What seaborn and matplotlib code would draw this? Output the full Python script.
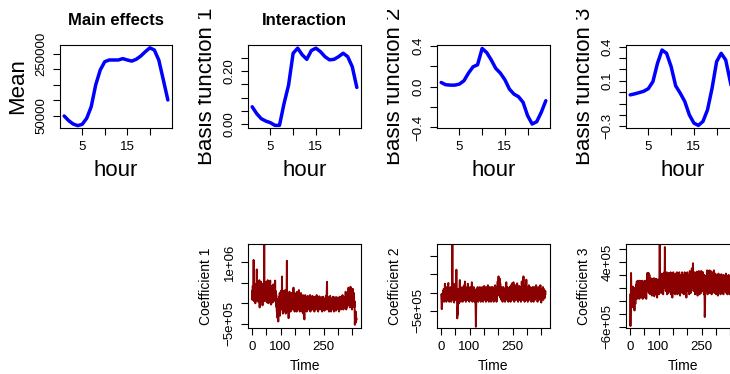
import numpy as np
import pandas as pd
import matplotlib
matplotlib.use("Agg")
import matplotlib.pyplot as plt
import seaborn as sns
from matplotlib.transforms import Bbox, TransformedBbox

# ---------------- data ----------------
hours = list(range(1, 25))
mean_effect = [49100, 34000, 23000, 17800, 22000, 41600, 79000, 150000, 198000, 225000,
               230600, 230600, 230600, 235000, 230600, 227000, 233000, 243500, 257500, 270000,
               263000, 230000, 166000, 101000]
basis1 = [0.065, 0.039, 0.020, 0.011, 0.005, -0.005, -0.005, 0.077, 0.147, 0.267,
          0.286, 0.261, 0.244, 0.277, 0.286, 0.273, 0.254, 0.242, 0.244, 0.254,
          0.267, 0.254, 0.216, 0.138]
basis2 = [0.042, 0.020, 0.016, 0.016, 0.026, 0.059, 0.134, 0.196, 0.216, 0.376,
          0.336, 0.264, 0.180, 0.134, 0.069, -0.023, -0.072, -0.098, -0.153, -0.284,
          -0.366, -0.343, -0.251, -0.137]
basis3 = [-0.023, -0.014, -0.003, 0.009, 0.032, 0.094, 0.254, 0.371, 0.342, 0.225,
          0.056, -0.008, -0.081, -0.198, -0.271, -0.291, -0.256, -0.154, 0.035, 0.269,
          0.342, 0.283, 0.094, -0.100]

# coefficient series (in thousands), Time = 1..365
coef1 = [300, 80, 420, 150, 350, 1050, 250, 50, 480, 120, 380, 0, 300, 450, 100, 250, 820, 200, 60, 400,
         150, 500, 30, 350, 180, 560, -100, 300, 420, 100, 250, 520, 60, 380, 150, 450, -50, 300, 200, 480,
         120, 350, 1410, 250, 50, 400, 180, 520, 80, 300, 150, 450, 20, 350, 560, 100, 280, 0, 420, 180,
         300, 60, 480, 550, 150, 350, -30, 250, 420, 100, 300, 20, 380, 160, 460, 50, 320, 200, 400, 80,
         550, 150, 300, -80, 200, 50, -200, 100, -350, 0, -150, -440, 50, -250, 150, -100, 250, -300, 100, -50,
         300, -150, 200, 50, 650, -100, 250, -250, 150, 0, 300, -200, 100, 200, -100, 320, 0, -250, 150, 50,
         250, 1030, -100, 200, 0, -200, 150, -360, 100, -50, 280, -150, 50, 200, -200, 100, 0, 250, -100, 150,
         -50, 200, -150, 100, 380, -100, 150, 50, -200, 250, 0, -100, 200, -50, 150, -200, 100, 280, -100, 50,
         -150, 200, 0, 320, -100, 150, -200, 100, 50, -150, 250, -50, 100, -200, 150, 0, -100, 200, -250, 50,
         150, -100, -390, 100, 0, 200, -150, 50, -50, 150, -200, 100, 0, -100, 180, -50, 100, -150, 50, 150,
         -100, 0, 200, -200, 50, 100, -150, 150, -50, 0, 180, -150, 50, -100, 150, -50, 100, -200, 0, 160,
         -100, 50, 100, -150, 0, 200, -100, 50, -50, 150, -200, 100, 0, -100, 170, -50, 50, -150, 100, 0,
         -100, 150, -50, 50, -200, 100, 0, 160, -100, 50, -50, 120, -180, 50, 100, -100, 0, 180, -150, 50,
         200, 520, -50, 100, -150, 50, 0, 150, -200, 100, -50, 50, 180, -100, 0, -200, 120, -50, 100, -150,
         50, 0, 160, -100, 50, -200, 100, 0, -100, 150, -50, 50, -180, 100, 0, 150, -150, 50, -50, 120,
         -100, 0, 100, -200, 50, 160, -100, 0, -50, 150, -150, 50, 100, -100, 0, 200, -50, 100, -150, 50,
         0, 120, -100, 50, 150, -50, 280, 0, -150, 100, 50, -100, 200, 0, -50, 150, 380, -50, 100, 0,
         250, -100, 150, 400, 50, -50, 300, 100, -150, 200, 0, 350, -50, 150, 100, 250, -100, 50, -520, -300,
         -480, -200, -450, -350, -400]
coef2 = [-50, -200, -450, -300, -100, -20, -200, 50, -150, 100, -250, 0, -100, 240, -200, 50, -150, 100, -250, -50,
         150, -200, 0, -100, 200, 260, -150, 50, -250, 100, -100, 0, -200, 150, -50, -250, 80, -150, 50, 1300,
         -100, 200, -200, 100, 240, -270, 0, -150, 150, -50, -200, 100, -100, 620, -200, 0, -700, -400, -600, -150,
         100, -300, 0, -200, 150, 340, -150, 50, -250, 100, -100, 0, -200, 150, -50, -250, 80, -150, 50, -100,
         200, -200, 100, 300, -150, 0, -250, 100, -100, 50, -200, 150, -50, 240, -200, 0, -150, 100, -250, 50,
         -100, 150, -200, 0, 100, -150, 50, 280, -100, -250, 100, -50, 0, -200, 150, -100, 50, -250, 0, -150,
         -400, -930, -300, 100, -100, 0, -200, 150, -50, -250, 100, -100, 50, -200, 0, 150, -150, 50, -250, 100,
         -50, 0, -200, 150, -100, 50, -250, 100, 0, -150, 180, -50, -200, 100, -100, 50, -250, 150, 0, -150,
         100, -50, -200, 200, -100, 0, -250, 100, -50, 150, -200, 50, -100, 0, -250, 150, -50, 100, -200, 0,
         150, -100, 50, -250, 100, -50, 0, -200, 200, -100, 50, -150, 100, -250, 0, 150, -100, 300, -50, 100,
         440, -50, 200, 0, 380, -100, 250, -150, 100, 0, -200, 150, -50, 100, -250, 50, -100, 150, -200, 0,
         100, -150, 50, -250, 100, -50, 0, 280, -100, 50, -200, 150, -50, 0, -250, 100, -100, 50, -200, 150,
         -50, 0, -250, 200, -100, 50, -150, 250, -50, 100, -200, 0, 280, -100, 50, -250, 100, -50, 200, -150,
         0, 150, -200, 50, -100, 250, -50, 0, -250, 100, -100, 50, 180, -200, 0, 100, -150, 50, -250, 150,
         -50, 300, -100, 50, -200, 150, 0, 440, -100, 200, -50, -250, 100, 0, -150, 150, -50, 350, -200, 50,
         -100, 150, -250, 50, 0, -150, 200, -50, 100, -200, 0, 150, -100, 50, -250, 100, -50, 0, -200, 150,
         -50, 100, -250, 0, 150, -100, 50, -200, 100, -50, 0, 200, -150, 50, -100, 100, -250, 0, 150, -100,
         50, -200, 100, -50, 0, -150, 200, -100, 50, -270, 0, 100, -150, 50, -100, 150, -200, 0, 100, -50,
         50, -150, 0, 50, -50]
coef3 = [-100, -590, -300, 230, -50, -250, 0, -200, -100, -300, 20, -150, -250, -50, -200, -350, -100, 0, -250, -80,
         -150, 50, -100, 100, -170, 0, -50, 110, -150, 30, -100, 80, -170, 0, 110, -120, 50, -80, 100, -150,
         0, -100, 110, -50, -170, 80, 0, -120, 100, -60, 30, -150, 110, -30, -100, 60, -170, 50, 0, 100,
         230, -50, 150, 0, 230, -80, 100, 200, -50, 120, -100, 50, 150, -80, 0, 130, -120, 80, -30, 140,
         -100, 60, 0, 150, -130, 80, -50, 120, 0, -100, 140, 20, -80, 100, -150, 60, 0, 130, -50, 100,
         50, -100, 200, 660, 100, -50, 150, 0, 200, -80, 100, 220, -50, 150, 50, -100, 180, 0, 120, 240,
         80, 630, 50, 150, -50, 200, 0, 120, 240, -100, 150, 50, 200, -80, 100, 230, 0, 150, -50, 180,
         60, 240, -100, 120, 200, 0, 150, -150, 180, 60, 240, 0, 100, -80, 200, 50, 150, -100, 220, 80,
         0, 180, -50, 240, 100, -100, 150, 50, 200, -80, 120, 240, 0, 150, -120, 100, 200, 50, -50, 180,
         100, 240, -80, 150, 0, 200, 60, -100, 180, 120, 240, 0, 150, -50, 200, 80, -150, 150, 50, 240,
         100, -50, 180, 0, 200, 120, -100, 150, 260, 50, 180, -80, 120, 240, 0, 300, 150, 50, 200, 380,
         100, -50, 180, 0, 240, 120, -100, 150, 50, 200, -80, 120, 250, 0, 160, -120, 100, 200, 50, 260,
         0, 180, -100, 150, 250, 50, 120, -80, 260, 100, 0, 180, -50, 150, 240, 0, 120, -100, 200, 50,
         -450, -300, 100, 180, -50, 150, 0, 200, 270, 80, -100, 160, 50, 240, 0, 150, 270, -80, 120, 200,
         50, 260, 0, 150, -100, 180, 80, 240, -50, 120, 200, 0, 270, 100, -80, 150, 50, 220, 0, 120,
         -100, 180, 60, 200, 0, 150, -120, 100, 220, 50, -50, 180, 80, 0, 200, -100, 130, 50, 210, 0,
         100, -80, 180, 50, 150, -100, 200, 0, 120, 60, -50, 180, 100, 0, 220, -80, 150, 50, 120, -100,
         180, 0, 100, 200, -50, 150, 50, -100, 180, 60, 0, 130, -80, 160, 40, 200, -50, 100, 0, 150,
         -60, 80, 120, 0, 100]

top_ylabels = ["Mean", "Basis function 1", "Basis function 2", "Basis function 3"]
top_titles = ["Main effects", "Interaction", "", ""]
bot_ylabels = ["Coefficient 1", "Coefficient 2", "Coefficient 3"]
hour_ticks = [5, 10, 15, 20]
hour_ticklabels = ["5", "", "15", ""]
time_ticks = [0, 50, 100, 150, 200, 250, 300, 350]
time_ticklabels = ["0", "", "100", "", "", "250", "", ""]

# ---------------- style ----------------
sns.set_style("ticks")
plt.rcParams['font.family'] = ['Liberation Sans', 'DejaVu Sans']
plt.rcParams['axes.linewidth'] = 0.8
plt.rcParams['text.color'] = 'black'
plt.rcParams['axes.labelcolor'] = 'black'
plt.rcParams['xtick.color'] = 'black'
plt.rcParams['ytick.color'] = 'black'
plt.rcParams['axes.edgecolor'] = 'black'

W, H = 730, 374
fig = plt.figure(figsize=(W / 100, H / 100), dpi=100)
fig.patch.set_facecolor("white")


def add_ax(l, t, w, h):
    return fig.add_axes([l / W, 1 - (t + h) / H, w / W, h / H])


def style(ax, labelsize=9.5):
    for s in ax.spines.values():
        s.set_visible(True)
        s.set_color("black")
        s.set_linewidth(0.8)
    ax.tick_params(direction="out", length=4.8, width=0.8, labelsize=labelsize,
                   colors="black", labelcolor="black")
    ax.tick_params(axis="x", pad=4.5)
    ax.tick_params(axis="y", pad=4.0, labelrotation=90)
    ax.set_facecolor("white")
    ax.grid(False)


col_left = [60, 248, 437, 626]
col_w = [112, 113, 113, 113]

# ---------------- top row ----------------
top_series = [mean_effect, basis1, basis2, basis3]
top_ylim = [(10100, 279200), (-0.015, 0.298), (-0.405, 0.41), (-0.314, 0.415)]
top_yticks = [[50000, 100000, 150000, 200000, 250000],
              [0.0, 0.05, 0.10, 0.15, 0.20, 0.25],
              [-0.4, -0.2, 0.0, 0.2, 0.4],
              [-0.3, -0.2, -0.1, 0.0, 0.1, 0.2, 0.3, 0.4]]
top_yticklabels = [["50000", "", "", "", "250000"],
                   ["0.00", "", "", "", "0.20", ""],
                   ["\u22120.4", "", "0.0", "", "0.4"],
                   ["\u22120.3", "", "", "", "0.1", "", "", "0.4"]]
clip_left = [9, 198, 387, 576]

for i in range(4):
    ax = add_ax(col_left[i], 45, col_w[i], 83)
    df = pd.DataFrame({"hour": hours, "val": top_series[i]})
    sns.lineplot(data=df, x="hour", y="val", ax=ax, color="#0000FF", lw=2.5)
    ax.set_xlim(0.08, 24.92)
    ax.set_ylim(*top_ylim[i])
    ax.set_xticks(hour_ticks)
    ax.set_xticklabels(hour_ticklabels)
    ax.set_yticks(top_yticks[i])
    ax.set_yticklabels(top_yticklabels[i])
    ax.set_xlabel("")
    ax.set_ylabel("")
    style(ax)
    for lb in ax.get_yticklabels():
        lb.set_va("center")
    cx = col_left[i] + col_w[i] / 2
    fig.text(cx / W, 1 - 176.5 / H, "hour", fontsize=16, ha="center", va="baseline")
    if top_titles[i]:
        fig.text(cx / W, 1 - 25 / H, top_titles[i], fontsize=12, fontweight="bold",
                 ha="center", va="baseline")
    yl = fig.text((col_left[i] - 36.5) / W, 1 - 86.5 / H, top_ylabels[i], fontsize=16,
                  rotation=90, rotation_mode="anchor", ha="center", va="baseline")
    yl.set_clip_box(TransformedBbox(Bbox.from_extents(clip_left[i] / W, 0, 2, 1),
                                    fig.transFigure))
    yl.set_clip_on(True)

# ---------------- bottom row ----------------
bot_series = [coef1, coef2, coef3]
bot_ylim = [(-598, 1436), (-962, 1319), (-620, 677)]
bot_yticks = [[-500, 0, 500, 1000], [-500, 0, 500, 1000],
              [-600, -400, -200, 0, 200, 400, 600]]
bot_yticklabels = [["\u22125e+05", "", "", "1e+06"],
                   ["\u22125e+05", "", "", ""],
                   ["\u22126e+05", "", "", "", "", "4e+05", ""]]

for j in range(3):
    i = j + 1
    ax = add_ax(col_left[i], 244, col_w[i], 84)
    vals = bot_series[j]
    df = pd.DataFrame({"Time": np.arange(1, len(vals) + 1), "val": vals})
    sns.lineplot(data=df, x="Time", y="val", ax=ax, color="#8B0000", lw=1.4)
    ax.set_xlim(-13.6, 380.5)
    ax.set_ylim(*bot_ylim[j])
    ax.set_xticks(time_ticks)
    ax.set_xticklabels(time_ticklabels)
    ax.set_yticks(bot_yticks[j])
    ax.set_yticklabels(bot_yticklabels[j])
    ax.set_xlabel("")
    ax.set_ylabel("")
    style(ax)
    for lb in ax.get_yticklabels():
        lb.set_va("center")
    cx = col_left[i] + col_w[i] / 2
    fig.text(cx / W, 1 - 370.5 / H, "Time", fontsize=10, ha="center", va="baseline")
    fig.text((col_left[i] - 38) / W, 1 - 286 / H, bot_ylabels[j], fontsize=10,
             rotation=90, rotation_mode="anchor", ha="center", va="baseline")

fig.savefig("out.png", dpi=100, facecolor="white")
